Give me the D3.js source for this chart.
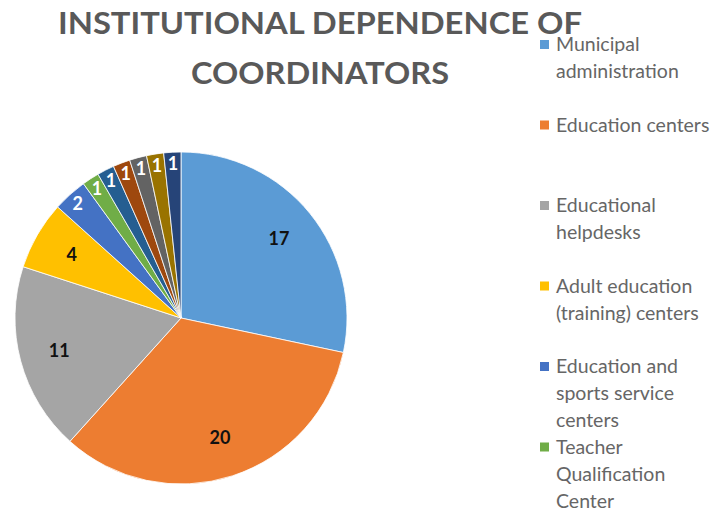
<!DOCTYPE html>
<head>
<meta charset="utf-8">
<title>Institutional dependence of coordinators</title>
<script src="https://cdn.jsdelivr.net/npm/d3@7"></script>
<style>
  body { margin: 0; background: #fff; }
  svg { display: block; font-family: Lato, "Open Sans", sans-serif; }
</style>
</head>
<body>
<svg width="717" height="513"></svg>
<script>
// legend names ("\n" = line break as wrapped in the original); the last five are cut off in the picture
var categories = [
  "Municipal\nadministration",
  "Education centers",
  "Educational\nhelpdesks",
  "Adult education\n(training) centers",
  "Education and\nsports service\ncenters",
  "Teacher\nQualification\nCenter",
  "Other 1", "Other 2", "Other 3", "Other 4", "Other 5"
]
var values = [17, 20, 11, 4, 2, 1, 1, 1, 1, 1, 1]
var colors = ["#5B9BD5", "#ED7D31", "#A5A5A5", "#FFC000", "#4472C4", "#70AD47",
              "#255E91", "#9E480E", "#636363", "#997300", "#264478"]
var titleLines = ["INSTITUTIONAL DEPENDENCE OF", "COORDINATORS"]

var W = 717, H = 513
var svg = d3.select("svg")
  , cx = 181, cy = 318, R = 166

var data = categories.map(function (c, i) { return {name: c, value: values[i], color: colors[i]} })

// title
svg.append("g").selectAll("text").data(titleLines).enter()
  .append("text")
  .attr("x", 320)
  .attr("y", function (d, i) { return 34 + i * 50 })
  .attr("text-anchor", "middle")
  .attr("font-size", 30)
  .attr("font-weight", "bold")
  .attr("fill", "#595959")
  .attr("textLength", function (d, i) { return i ? 258 : 524 })
  .attr("lengthAdjust", "spacingAndGlyphs")
  .text(function (d) { return d })

// pie
var pie = d3.pie().sort(null).value(function (d) { return d.value })
var arcs = pie(data)
var arc = d3.arc().innerRadius(0).outerRadius(R)
var g = svg.append("g").attr("transform", "translate(" + cx + "," + cy + ")")

g.selectAll("path").data(arcs).enter()
  .append("path")
  .attr("d", arc)
  .attr("fill", function (d) { return d.data.color })
  .attr("stroke", "#fff")
  .attr("stroke-width", 0.8)

var bigLabel = d3.arc().innerRadius(R * 0.76).outerRadius(R * 0.76)
  , smallLabel = d3.arc().innerRadius(R * 0.93).outerRadius(R * 0.93)

g.selectAll("text").data(arcs).enter()
  .append("text")
  .attr("transform", function (d) {
    var a = d.data.value > 2 ? bigLabel : smallLabel
    return "translate(" + a.centroid(d) + ")"
  })
  .attr("text-anchor", "middle")
  .attr("dy", "0.35em")
  .attr("font-size", 18)
  .attr("font-weight", "bold")
  .attr("fill", function (d) { return d.data.value > 2 ? "#111" : "#fff" })
  .text(function (d) { return d.data.value })

// legend (entries below the bottom edge are cut off, as in the original)
var ly = d3.scaleLinear().domain([0, 1]).range([45, 125.5])
var leg = svg.append("g").selectAll("g")
  .data(data.filter(function (d, i) { return ly(i) < H }))
  .enter()
  .append("g")
  .attr("transform", function (d, i) { return "translate(540," + ly(i) + ")" })

leg.append("rect")
  .attr("x", 0).attr("y", -5)
  .attr("width", 9).attr("height", 9)
  .attr("fill", function (d) { return d.color })

leg.append("text")
  .attr("fill", "#666")
  .attr("font-size", 19.5)
  .selectAll("tspan")
  .data(function (d) { return d.name.split("\n") })
  .enter().append("tspan")
  .attr("x", 16)
  .attr("y", function (d, i) { return 6 + i * 27 })
  .text(function (d) { return d })
</script>
</body>
